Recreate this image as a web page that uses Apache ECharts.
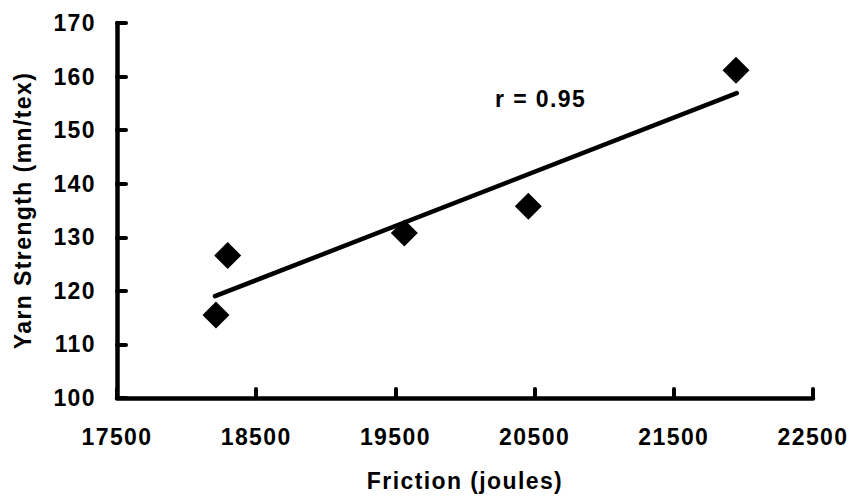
<!DOCTYPE html>
<html>
<head>
<meta charset="utf-8">
<script src="https://cdn.jsdelivr.net/npm/echarts@6/dist/echarts.min.js"></script>
<style>
  html, body { margin: 0; padding: 0; background: #fff; }
  #chart { width: 854px; height: 500px; }
  /* slightly spaced-out lettering for all chart text */
  #chart svg text { letter-spacing: 1.4px; }
</style>
</head>
<body>
<div id="chart"></div>
<script>
// Friction vs yarn strength measurements
const frictionJoules = [18211, 18295, 19564, 20455, 21947];
const yarnStrength = [115.5, 126.6, 130.8, 135.8, 161.2];

// Fitted trend line end points
const trendFriction = [18204, 21952];
const trendStrength = [119.0, 156.9];

// Axis tick values
const xTicks = [17500, 18500, 19500, 20500, 21500, 22500];
const yTicks = [100, 110, 120, 130, 140, 150, 160, 170];

const correlationLabel = 'r = 0.95';

const FONT = '"Liberation Sans", Arial, sans-serif';
const textStyle = { fontFamily: FONT, fontWeight: 'bold', fontSize: 23, color: '#000' };

const axisLineStyle = { color: '#000', width: 4.5, cap: 'round' };
const tickLineStyle = { color: '#000', width: 4, cap: 'round' };

const plain = v => String(v);

const chart = echarts.init(document.getElementById('chart'), null, { renderer: 'svg' });

chart.setOption({
  animation: false,
  backgroundColor: '#fff',
  grid: { left: 117, right: 41, top: 23, bottom: 102 },
  xAxis: {
    type: 'value',
    min: xTicks[0],
    max: xTicks[xTicks.length - 1],
    name: 'Friction (joules)',
    nameLocation: 'middle',
    nameGap: 71,
    nameTextStyle: textStyle,
    axisLine: { show: true, onZero: false, lineStyle: axisLineStyle },
    axisTick: { show: true, inside: true, length: 9, lineStyle: tickLineStyle, customValues: xTicks },
    axisLabel: Object.assign({ margin: 27, customValues: xTicks, formatter: plain }, textStyle),
    splitLine: { show: false }
  },
  yAxis: {
    type: 'value',
    min: yTicks[0],
    max: yTicks[yTicks.length - 1],
    interval: 10,
    name: 'Yarn Strength (mn/tex)',
    nameLocation: 'middle',
    nameGap: 83,
    nameTextStyle: textStyle,
    axisLine: { show: true, onZero: false, lineStyle: axisLineStyle },
    axisTick: { show: true, inside: true, length: 9, lineStyle: tickLineStyle, customValues: yTicks },
    axisLabel: Object.assign({ margin: 21, customValues: yTicks, formatter: plain }, textStyle),
    splitLine: { show: false }
  },
  series: [
    {
      type: 'line',
      data: trendFriction.map((x, i) => [x, trendStrength[i]]),
      symbol: 'none',
      lineStyle: { color: '#000', width: 4.5, cap: 'round' },
      z: 2
    },
    {
      type: 'scatter',
      data: frictionJoules.map((x, i) => [x, yarnStrength[i]]),
      symbol: 'diamond',
      symbolSize: 27,
      itemStyle: { color: '#000', opacity: 1 },
      z: 3
    }
  ],
  graphic: [
    {
      type: 'text',
      left: 495,
      top: 87,
      style: {
        text: correlationLabel,
        fill: '#000',
        fontFamily: FONT,
        fontWeight: 'bold',
        fontSize: 23
      }
    }
  ]
});
</script>
</body>
</html>
